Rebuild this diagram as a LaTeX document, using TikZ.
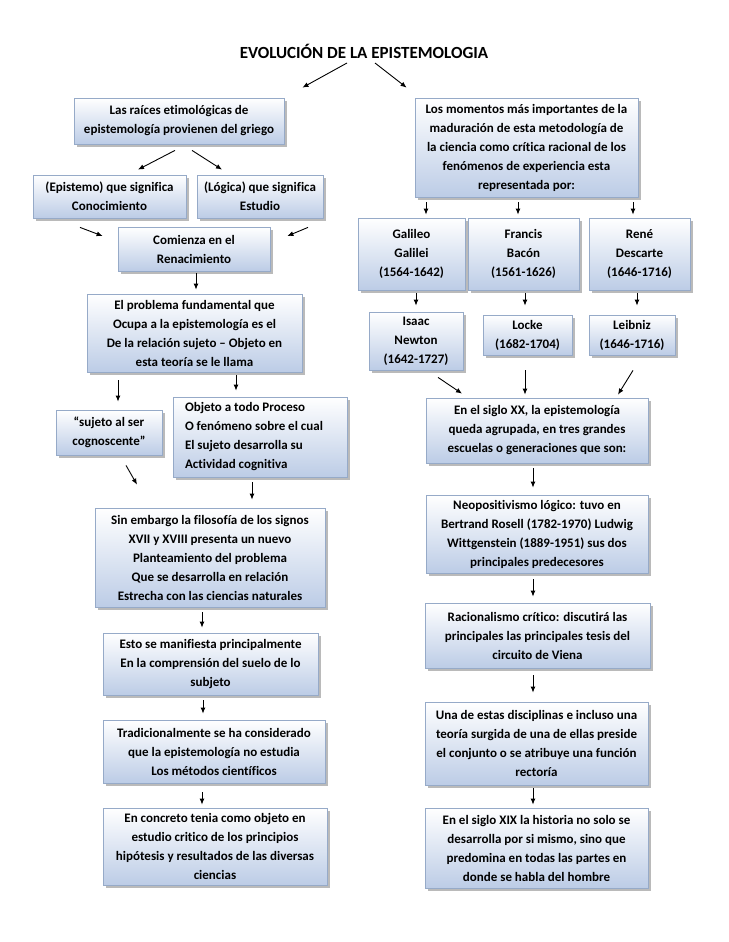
\documentclass[tikz,border=0pt]{standalone}
\usepackage{fontspec}
\setmainfont{Carlito}[Ligatures=NoCommon]
\usetikzlibrary{arrows.meta,shadows}
\definecolor{borde}{RGB}{150,170,200}
\definecolor{fondo}{RGB}{188,204,230}

\begin{document}
\begin{tikzpicture}[x=1pt,y=-1pt,
  caja/.style={draw=borde,line width=0.8pt,top color=white,bottom color=fondo,
    drop shadow={shadow xshift=3pt,shadow yshift=-3pt,fill=black!45,opacity=.6},
    align=center,font=\fontsize{13}{19}\selectfont\bfseries,inner sep=2pt},
  titulo/.style={font=\fontsize{17}{20}\selectfont\bfseries,anchor=base},
  flecha/.style={-{Latex[length=6pt,width=5pt]},line width=0.9pt}]
\fill[white] (0,0) rectangle (728,942);
\useasboundingbox (0,0) rectangle (728,942);

\node[titulo] (titulo) at (364,59) {EVOLUCIÓN DE LA EPISTEMOLOGIA};

\node[caja,minimum width=210pt,minimum height=46pt] (raices) at (179,121) {Las raíces etimológicas de\\epistemología provienen del griego};
\node[caja,minimum width=153pt,minimum height=43pt] (epistemo) at (109.5,196.5) {(Epistemo) que significa\\Conocimiento};
\node[caja,minimum width=126pt,minimum height=43pt] (logica) at (260,196.5) {(Lógica) que significa\\Estudio};
\node[caja,minimum width=152pt,minimum height=44pt] (comienza) at (194,249) {Comienza en el\\Renacimiento};
\node[caja,minimum width=215pt,minimum height=78pt] (problema) at (194.5,333) {El problema fundamental que\\Ocupa a la epistemología es el\\De la relación sujeto – Objeto en\\esta teoría se le llama};
\node[caja,minimum width=106pt,minimum height=45pt] (sujeto) at (109,432.5) {“sujeto al ser\\cognoscente”};
\node[caja,minimum width=174pt,minimum height=80pt,text width=150pt,align=flush left] (objeto) at (260,437) {Objeto a todo Proceso\\O fenómeno sobre el cual\\El sujeto desarrolla su\\Actividad cognitiva};
\node[caja,minimum width=230pt,minimum height=99pt] (sinembargo) at (210,557.5) {Sin embargo la filosofía de los signos\\XVII y XVIII presenta un nuevo\\Planteamiento del problema\\Que se desarrolla en relación\\Estrecha con las ciencias naturales};
\node[caja,minimum width=215pt,minimum height=62pt] (esto) at (210.5,664) {Esto se manifiesta principalmente\\En la comprensión del suelo de lo\\subjeto};
\node[caja,minimum width=222pt,minimum height=63pt] (tradicional) at (214,751.5) {Tradicionalmente se ha considerado\\que la epistemología no estudia\\Los métodos científicos};
\node[caja,minimum width=224pt,minimum height=77pt] (concreto) at (215,846.5) {En concreto tenia como objeto en\\estudio critico de los principios\\hipótesis y resultados de las diversas\\ciencias};

\node[caja,minimum width=223pt,minimum height=99pt] (momentos) at (526.5,147.5) {Los momentos más importantes de la\\maduración de esta metodología de\\la ciencia como crítica racional de los\\fenómenos de experiencia esta\\representada por:};
\node[caja,minimum width=107pt,minimum height=72pt] (galileo) at (411.5,254) {Galileo\\Galilei\\(1564-1642)};
\node[caja,minimum width=111pt,minimum height=72pt] (francis) at (523.5,254) {Francis\\Bacón\\(1561-1626)};
\node[caja,minimum width=101pt,minimum height=72pt] (rene) at (639.5,254) {René\\Descarte\\(1646-1716)};
\node[caja,minimum width=94pt,minimum height=58pt] (isaac) at (416,341) {Isaac\\Newton\\(1642-1727)};
\node[caja,minimum width=89pt,minimum height=40pt] (locke) at (527.5,335) {Locke\\(1682-1704)};
\node[caja,minimum width=86pt,minimum height=40pt] (leibniz) at (632,335) {Leibniz\\(1646-1716)};
\node[caja,minimum width=222pt,minimum height=65pt] (sigloxx) at (537,430.5) {En el siglo XX, la epistemología\\queda agrupada, en tres grandes\\escuelas o generaciones que son:};
\node[caja,minimum width=222pt,minimum height=78pt] (neopos) at (537,534) {Neopositivismo lógico: tuvo en\\Bertrand Rosell (1782-1970) Ludwig\\Wittgenstein (1889-1951) sus dos\\principales predecesores};
\node[caja,minimum width=225pt,minimum height=65pt] (racional) at (537.5,635.5) {Racionalismo crítico: discutirá las\\principales las principales tesis del\\circuito de Viena};
\node[caja,minimum width=223pt,minimum height=83pt] (una) at (536.5,743.5) {Una de estas disciplinas e incluso una\\teoría surgida de una de ellas preside\\el conjunto o se atribuye una función\\rectoría};
\node[caja,minimum width=223pt,minimum height=80pt] (sigloxix) at (536.5,848) {En el siglo XIX la historia no solo se\\desarrolla por si mismo, sino que\\predomina en todas las partes en\\donde se habla del hombre};

\draw[flecha] ([shift={(-17,4)}]titulo.base) -- ([shift={(18,-10)}]raices.north east);
\draw[flecha] ([shift={(11,4)}]titulo.base) -- ([shift={(-8,-10)}]momentos.north west);
\draw[flecha] ([shift={(-4,6)}]raices.south) -- ([shift={(28.5,-5)}]epistemo.north);
\draw[flecha] ([shift={(13,6)}]raices.south) -- ([shift={(-38,-5)}]logica.north);
\draw[flecha] ([shift={(-29.5,9)}]epistemo.south) -- ([shift={(-15,-13)}]comienza.west);
\draw[flecha] ([shift={(48,9)}]logica.south) -- ([shift={(17,-13)}]comienza.east);
\draw[flecha] ([shift={(2,2)}]comienza.south) -- ([shift={(1.5,-4)}]problema.north);
\draw[flecha] ([shift={(-76.5,8)}]problema.south) -- ([shift={(9,-8)}]sujeto.north);
\draw[flecha] ([shift={(41.5,3)}]problema.south) -- ([shift={(-24,-6)}]objeto.north);
\draw[flecha] ([shift={(17,10)}]sujeto.south) -- ([shift={(-73,-23)}]sinembargo.north);
\draw[flecha] ([shift={(-8,5)}]objeto.south) -- ([shift={(42,-8)}]sinembargo.north);
\draw[flecha] ([shift={(-8,5)}]sinembargo.south) -- ([shift={(-8.5,-5)}]esto.north);
\draw[flecha] ([shift={(-7.5,5)}]esto.south) -- ([shift={(-11,-6)}]tradicional.north);
\draw[flecha] ([shift={(-12,9)}]tradicional.south) -- ([shift={(-13,-3)}]concreto.north);

\draw[flecha] ([shift={(-100.5,5)}]momentos.south) -- ([shift={(14.5,-3)}]galileo.north);
\draw[flecha] ([shift={(-8.5,5)}]momentos.south) -- ([shift={(-5.5,-3)}]francis.north);
\draw[flecha] ([shift={(106.5,5)}]momentos.south) -- ([shift={(-6.5,-3)}]rene.north);
\draw[flecha] ([shift={(4.5,3)}]galileo.south) -- ([shift={(0,-6)}]isaac.north);
\draw[flecha] ([shift={(1.5,3)}]francis.south) -- ([shift={(-2.5,-9)}]locke.north);
\draw[flecha] ([shift={(-2.5,3)}]rene.south) -- ([shift={(5,-9)}]leibniz.north);
\draw[flecha] ([shift={(22,7)}]isaac.south) -- ([shift={(-75,-4)}]sigloxx.north);
\draw[flecha] ([shift={(-2.5,15)}]locke.south) -- ([shift={(-12,-3)}]sigloxx.north);
\draw[flecha] ([shift={(1,15)}]leibniz.south) -- ([shift={(81,-3)}]sigloxx.north);
\draw[flecha] ([shift={(-4,5)}]sigloxx.south) -- ([shift={(-4,-7)}]neopos.north);
\draw[flecha] ([shift={(-4,6)}]neopos.south) -- ([shift={(-4.5,-6)}]racional.north);
\draw[flecha] ([shift={(-4.5,7)}]racional.south) -- ([shift={(-3.5,-9)}]una.north);
\draw[flecha] ([shift={(-3.5,3)}]una.south) -- ([shift={(-3.5,-3)}]sigloxix.north);
\end{tikzpicture}
\end{document}
